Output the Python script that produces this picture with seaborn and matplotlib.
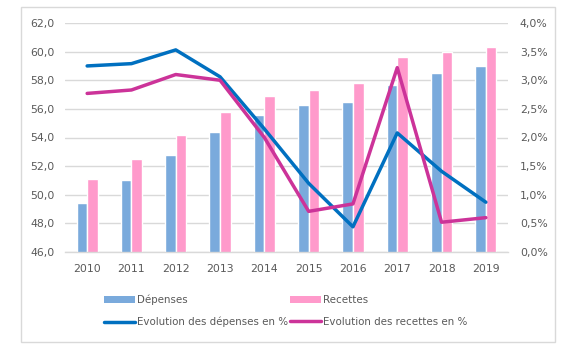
import matplotlib
matplotlib.use("Agg")
import matplotlib.pyplot as plt
import seaborn as sns
import pandas as pd
import numpy as np
from matplotlib.patches import Patch, Rectangle
from matplotlib.lines import Line2D
from matplotlib.ticker import FuncFormatter

years = ["2010", "2011", "2012", "2013", "2014", "2015", "2016", "2017", "2018", "2019"]
depenses = [49.4, 51.0, 52.8, 54.4, 55.6, 56.3, 56.5, 57.7, 58.5, 59.0]
recettes = [51.1, 52.5, 54.2, 55.8, 56.9, 57.3, 57.8, 59.6, 60.0, 60.3]
evo_depenses = [3.25, 3.29, 3.53, 3.06, 2.15, 1.20, 0.44, 2.08, 1.41, 0.87]
evo_recettes = [2.77, 2.83, 3.10, 3.00, 2.00, 0.71, 0.84, 3.22, 0.52, 0.60]
left_ticks = [46, 48, 50, 52, 54, 56, 58, 60, 62]
right_ticks = [0.0, 0.5, 1.0, 1.5, 2.0, 2.5, 3.0, 3.5, 4.0]

lab_dep = "Dépenses"
lab_rec = "Recettes"
lab_evo_dep = "Evolution des dépenses en %"
lab_evo_rec = "Evolution des recettes en %"

c_dep = "#7aaadc"
c_rec = "#ff9acb"
c_ldep = "#0070c0"
c_lrec = "#cc3399"
txt = "#595959"
grid = "#d9d9d9"

sns.set_theme(style="white")
plt.rcParams["font.family"] = ["DejaVu Sans"]

bars = pd.DataFrame({
    "year": years * 2,
    "value": depenses + recettes,
    "serie": [lab_dep] * len(years) + [lab_rec] * len(years),
})
lines = pd.DataFrame({
    "year": years * 2,
    "value": evo_depenses + evo_recettes,
    "serie": [lab_evo_dep] * len(years) + [lab_evo_rec] * len(years),
})

fig = plt.figure(figsize=(5.82, 3.5), dpi=100)
ax = fig.add_axes([65 / 582, 1 - 252 / 350, (508 - 65) / 582, (252 - 23) / 350])

sns.barplot(data=bars, x="year", y="value", hue="serie", order=years,
            palette=[c_dep, c_rec], width=0.48, gap=0, ax=ax, legend=False,
            saturation=1, bottom=0)
ax.set_ylim(46, 62)
ax.set_xlim(-0.5, len(years) - 0.5)
ax.set_yticks(left_ticks)
ax.yaxis.set_major_formatter(FuncFormatter(lambda v, p: f"{v:.1f}".replace(".", ",")))
ax.grid(axis="y", color=grid, linewidth=1)
ax.set_axisbelow(True)
for s in ["top", "right", "left"]:
    ax.spines[s].set_visible(False)
ax.spines["bottom"].set_color(grid)
ax.spines["bottom"].set_linewidth(1)
ax.set_xlabel("")
ax.set_ylabel("")
ax.tick_params(axis="both", length=0, labelsize=7.8, colors=txt)
ax.tick_params(axis="y", pad=7.5)
ax.tick_params(axis="x", pad=9)

ax2 = ax.twinx()
sns.pointplot(data=lines, x="year", y="value", hue="serie", order=years,
              palette=[c_ldep, c_lrec], markers="", linewidth=2.5,
              errorbar=None, ax=ax2, legend=False)
ax2.set_ylim(0, 4)
ax2.set_xlim(-0.5, len(years) - 0.5)
ax2.set_yticks(right_ticks)
ax2.yaxis.set_major_formatter(FuncFormatter(lambda v, p: f"{v:.1f}%".replace(".", ",")))
for s in ["top", "right", "left", "bottom"]:
    ax2.spines[s].set_visible(False)
ax2.set_ylabel("")
ax2.set_xlabel("")
ax2.tick_params(axis="y", length=0, labelsize=7.8, colors=txt, pad=8.5)

handles = [
    Patch(facecolor=c_dep, edgecolor="none", label=lab_dep),
    Line2D([0], [0], color=c_ldep, lw=2.5, label=lab_evo_dep),
    Patch(facecolor=c_rec, edgecolor="none", label=lab_rec),
    Line2D([0], [0], color=c_lrec, lw=2.5, label=lab_evo_rec),
]
leg = fig.legend(handles=handles, ncol=2, loc="center", bbox_to_anchor=(286 / 582, 1 - 311 / 350),
                 frameon=False, fontsize=7.4, handlelength=3.0, handleheight=0.7,
                 handletextpad=0.2, columnspacing=0.2, labelspacing=1.15, labelcolor=txt)

fig.patches.append(Rectangle((20.5 / 582, 1 - 342 / 350), (555 - 20.5) / 582, (342 - 6.5) / 350,
                             transform=fig.transFigure, fill=False, edgecolor=grid, linewidth=1))

fig.savefig("out.png", dpi=100, facecolor="white")
